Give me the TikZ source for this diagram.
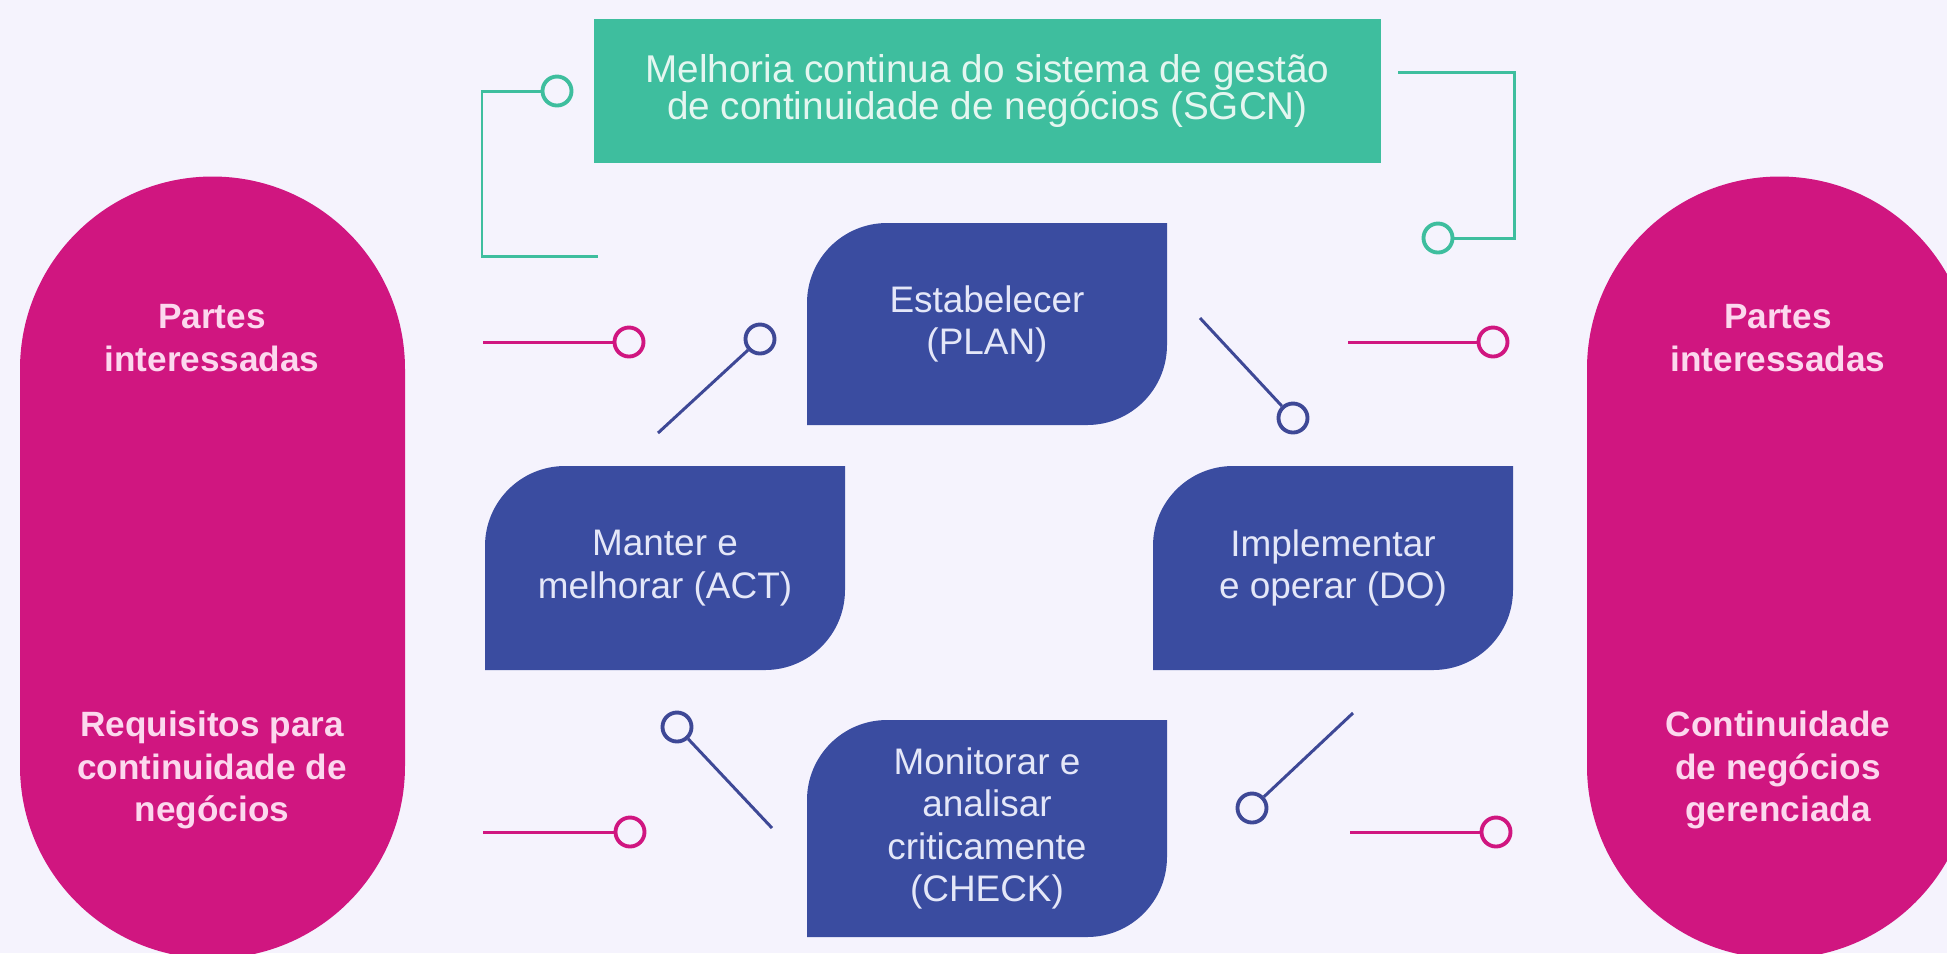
\documentclass[tikz,border=0pt]{standalone}
\usepackage{fontspec}
\setmainfont{Liberation Sans}
\definecolor{fundo}{RGB}{245,243,253}
\definecolor{rosa}{RGB}{208,22,128}
\definecolor{rosaclaro}{RGB}{252,216,238}
\definecolor{azul}{RGB}{58,76,160}
\definecolor{azulclaro}{RGB}{228,231,248}
\definecolor{azullinha}{RGB}{62,72,150}
\definecolor{verde}{RGB}{62,190,158}
\definecolor{verdeclaro}{RGB}{228,246,240}
\tikzset{
  pino/.style={circle,draw=#1,line width=1.1pt,fill=fundo,minimum size=0.29cm,inner sep=0pt},
  haste/.style={draw=#1,line width=0.85pt},
  textopilula/.style={text=rosaclaro,font=\fontsize{10}{12.2}\selectfont\bfseries,align=center},
  textoetapa/.style={text=azulclaro,font=\fontsize{10.5}{12}\selectfont,align=center}
}
\begin{document}
\begin{tikzpicture}[x=0.01cm,y=-0.01cm]
    \useasboundingbox (0,0) rectangle (1947,953);
    \clip (0,0) rectangle (1947,953);
    \fill[fundo] (0,0) rectangle (1947,953);

    \foreach \xl in {20,1587}{
      \fill[rosa] (\xl,369) arc[start angle=180,end angle=360,radius=192.5]
        -- (\xl+385,766) arc[start angle=0,end angle=180,radius=192.5] -- cycle;
    }
    \node[textopilula] (partesE) at (212,338) {Partes\\interessadas};
    \node[textopilula] (requisitos) at (212,770) {Requisitos para\\continuidade de\\negócios};
    \node[textopilula] (partesD) at (1778,338) {Partes\\interessadas};
    \node[textopilula] (gerenciada) at (1778,770) {Continuidade\\de negócios\\gerenciada};

    \node[fill=verde,text=verdeclaro,minimum width=7.87cm,minimum height=1.44cm,align=center,
      font=\fontsize{11}{10.5}\selectfont] (sgcn) at (987.5,91)
      {Melhoria continua do sistema de gestão\\de continuidade de negócios (SGCN)};

    \foreach \nome/\xl/\yt/\yb/\rotulo in {
        plan/807/223/425/{Estabelecer\\(PLAN)},
        act/485/466/670/{Manter e\\melhorar (ACT)},
        do/1153/466/670/{Implementar\\e operar (DO)},
        check/807/720/937/{Monitorar e\\analisar\\criticamente\\(CHECK)}}{
      \fill[azul] (\xl,\yb) -- (\xl,\yt+80) arc[start angle=180,end angle=270,radius=80]
        -- (\xl+360,\yt) -- (\xl+360,\yb-80) arc[start angle=0,end angle=90,radius=80] -- cycle;
      \node[textoetapa] (\nome) at (\xl+180,{(\yt+\yb)/2}) {\rotulo};
    }

    \foreach \i/\px/\py/\cx/\cy/\cor in {
        1/483/342/629/342/rosa,
        2/483/832/630/832/rosa,
        3/1348/342/1493/342/rosa,
        4/1350/832/1496/832/rosa,
        5/658/433/760/339/azullinha,
        6/1200/318/1293/418/azullinha,
        7/1353/713/1252/808/azullinha,
        8/772/828/677/727/azullinha}{
      \coordinate (ponta\i) at (\px,\py);
      \node[pino=\cor] (pino\i) at (\cx,\cy) {};
      \draw[haste=\cor] (ponta\i) -- (pino\i);
    }

    \node[pino=verde] (pinoE) at (557,91) {};
    \coordinate (cantoE) at (482,256);
    \coordinate (fimE) at (598,256);
    \draw[haste=verde] (pinoE) -| (cantoE) -- (fimE);

    \coordinate (inicioD) at (1398,72);
    \coordinate (cantoD) at (1514,72);
    \node[pino=verde] (pinoD) at (1438,238) {};
    \draw[haste=verde] (inicioD) -- (cantoD) |- (pinoD);
\end{tikzpicture}
\end{document}
